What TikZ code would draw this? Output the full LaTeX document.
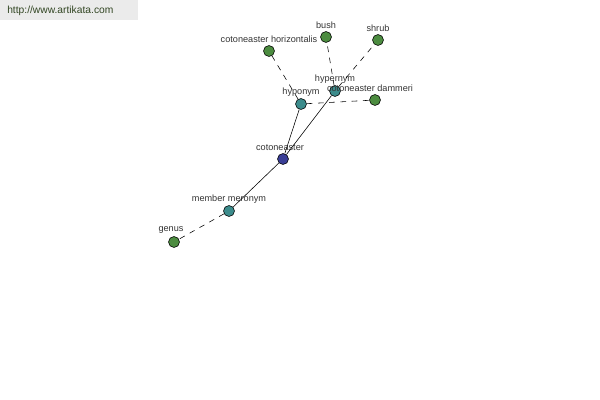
\documentclass[tikz,border=0pt]{standalone}
\usepackage{fontspec}
\setmainfont{Liberation Sans}
\definecolor{rootblue}{RGB}{58,62,150}
\definecolor{relteal}{RGB}{60,140,140}
\definecolor{leafgreen}{RGB}{76,140,64}
\definecolor{headtext}{RGB}{50,70,35}
\definecolor{headgray}{RGB}{235,235,235}

\begin{document}
\begin{tikzpicture}[x=0.025cm, y=-0.025cm,
    every node/.style={circle, draw, minimum size=11*0.025cm, inner sep=0pt,
        label distance=0pt},
    every label/.style={draw=none, fill=none, rectangle, inner sep=1pt,
        text=black!80, font=\fontsize{6.5}{7}\selectfont},
    dashed link/.style={dashed, dash pattern=on 4pt off 4pt}]
    \useasboundingbox (0, 0) rectangle (600, 400);
    \fill[headgray] (0, 0) rectangle (138, 20);
    \node[draw=none, rectangle, anchor=west, text=headtext,
        font=\fontsize{7.3}{8}\selectfont] (site) at (7, 11) {http://www.artikata.com};

    \node[fill=rootblue, label={[xshift=-3*0.025cm]above:cotoneaster}] (cot) at (283, 159) {};
    \node[fill=relteal, label=above:hyponym] (hypo) at (301, 104) {};
    \node[fill=relteal, label=above:hypernym] (hyper) at (335, 91) {};
    \node[fill=relteal, label=above:member meronym] (mero) at (229, 211) {};
    \node[fill=leafgreen, label={[xshift=-3*0.025cm]above:genus}] (genus) at (174, 242) {};
    \node[fill=leafgreen, label=above:cotoneaster horizontalis] (horiz) at (269, 51) {};
    \node[fill=leafgreen, label=above:bush] (bush) at (326, 37) {};
    \node[fill=leafgreen, label=above:shrub] (shrub) at (378, 40) {};
    \node[fill=leafgreen, label={[xshift=-5*0.025cm]above:cotoneaster dammeri}] (damm) at (375, 100) {};

    \draw (cot) -- (hypo);
    \draw (cot) -- (hyper);
    \draw (cot) -- (mero);
    \draw[dashed link] (mero) -- (genus);
    \draw[dashed link] (hypo) -- (horiz);
    \draw[dashed link] (hypo) -- (damm);
    \draw[dashed link] (hyper) -- (bush);
    \draw[dashed link] (hyper) -- (shrub);
\end{tikzpicture}
\end{document}
